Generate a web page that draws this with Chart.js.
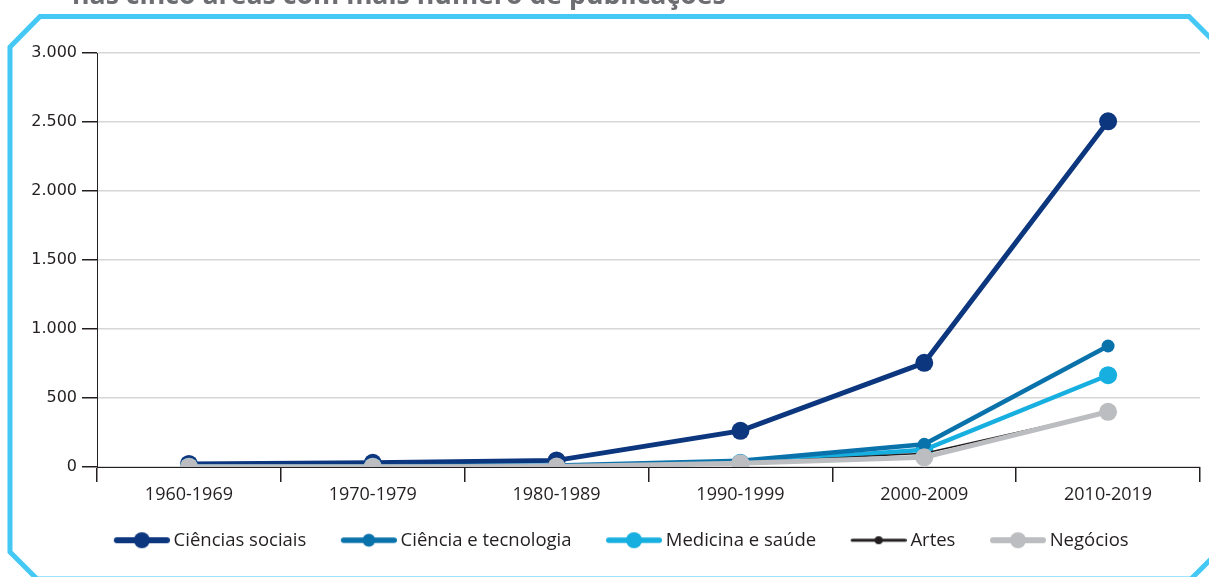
<!DOCTYPE html>
<html>
<head>
<meta charset="utf-8">
<script src="https://cdn.jsdelivr.net/npm/chart.js@4.4.1/dist/chart.umd.min.js"></script>
<style>
    html, body { margin: 0; padding: 0; background: #ffffff; }
    #wrap { position: relative; width: 1209px; height: 577px; overflow: hidden; }
    #title {
        position: absolute; left: 72px; top: -19px;
        font-family: 'Open Sans', sans-serif; font-weight: 700;
        font-size: 26.7px; line-height: 26.5px; color: #6d6e71; white-space: nowrap;
    }
    canvas { position: absolute; left: 0; top: 0; }
</style>
</head>
<body>
<div id="wrap">
    <canvas id="chart" width="1209" height="577"></canvas>
    <div id="title">nas cinco áreas com mais número de publicações</div>
</div>
<script>
// ==================== DATA ====================
const categories = ['1960-1969', '1970-1979', '1980-1989', '1990-1999', '2000-2009', '2010-2019'];
const yTickLabels = ['0', '500', '1.000', '1.500', '2.000', '2.500', '3.000'];

const cienciasSociais   = [22, 30, 48, 262, 755, 2505];
const cienciaTecnologia = [5, 6, 10, 45, 165, 877];
const medicinaSaude     = [2, 2, 0, 30, 125, 665];
const artes             = [3, 3, 5, 30, 100, 398];
const negocios          = [2, 2, 3, 28, 70, 400];

// ==================== STYLE ====================
const seriesStyle = [
    { label: 'Ciências sociais',     data: cienciasSociais,   color: '#0c367e', width: 5,   radius: 9,   order: 5 },
    { label: 'Ciência e tecnologia', data: cienciaTecnologia, color: '#0a72ab', width: 4.5, radius: 6.5, order: 3 },
    { label: 'Medicina e saúde',     data: medicinaSaude,     color: '#17afe0', width: 4.5, radius: 9,   order: 4 },
    { label: 'Artes',                data: artes,             color: '#231f20', width: 1.5, radius: 4,   order: 2 },
    { label: 'Negócios',             data: negocios,          color: '#bcbdc0', width: 5,   radius: 9,   order: 1 }
];

// legend icon: short line with a dot in the middle (left 20px kept empty as spacing)
const ICON_PAD = 20;
function legendIcon(color, lineWidth, radius) {
    const c = document.createElement('canvas');
    c.width = 56 + ICON_PAD;
    c.height = 20;
    const g = c.getContext('2d');
    const lw = Math.max(lineWidth, 2) + 1;
    g.strokeStyle = color;
    g.lineWidth = lw;
    g.lineCap = 'round';
    g.beginPath();
    g.moveTo(ICON_PAD + lw / 2, 10);
    g.lineTo(ICON_PAD + 56 - lw / 2, 10);
    g.stroke();
    g.fillStyle = color;
    g.beginPath();
    g.arc(ICON_PAD + 28, 10, radius, 0, Math.PI * 2);
    g.fill();
    return c;
}
const icons = seriesStyle.map(s => legendIcon(s.color, s.width, Math.min(s.radius, 8)));

// cyan frame with cut corners
const framePlugin = {
    id: 'frame',
    beforeDraw(chart) {
        const g = chart.ctx;
        g.save();
        g.strokeStyle = '#45c8f3';
        g.lineWidth = 5;
        g.lineJoin = 'miter';
        g.beginPath();
        g.moveTo(40, 16.5);
        g.lineTo(1189, 16.5);
        g.lineTo(1222, 49.5);
        g.lineTo(1222, 548);
        g.lineTo(1191, 579);
        g.lineTo(37, 579);
        g.lineTo(10, 552);
        g.lineTo(10, 47);
        g.closePath();
        g.stroke();
        g.restore();
    }
};

// nudge the legend row a little to the right
const legendShift = {
    id: 'legendShift',
    afterLayout(chart) {
        chart.legend.left += 13;
        chart.legend.right += 13;
    }
};

// ==================== CHART ====================
const ctx = document.getElementById('chart').getContext('2d');
const chart = new Chart(ctx, {
    type: 'line',
    data: {
        labels: categories,
        datasets: seriesStyle.map(s => ({
            label: s.label,
            data: s.data,
            borderColor: s.color,
            backgroundColor: s.color,
            pointBackgroundColor: s.color,
            borderWidth: s.width,
            pointRadius: s.radius,
            pointBorderWidth: 0,
            pointHoverRadius: s.radius,
            tension: 0,
            fill: false,
            order: s.order
        }))
    },
    options: {
        responsive: false,
        animation: false,
        layout: { padding: { left: 0, right: 7, top: 53, bottom: 17.5 } },
        plugins: {
            tooltip: { enabled: false },
            legend: {
                position: 'bottom',
                labels: {
                    usePointStyle: true,
                    pointStyleWidth: 65,
                    padding: 20,
                    color: '#231f20',
                    font: { family: "'Open Sans', sans-serif", size: 18.5 },
                    sort: (a, b) => a.datasetIndex - b.datasetIndex,
                    generateLabels: (c) => Chart.defaults.plugins.legend.labels.generateLabels(c)
                        .map(item => Object.assign(item, { pointStyle: icons[item.datasetIndex] }))
                }
            }
        },
        scales: {
            x: {
                offset: true,
                afterFit: (scale) => { scale.height = 44; },
                border: { display: true, color: '#231f20', width: 1 },
                grid: {
                    offset: true,
                    drawOnChartArea: true,
                    color: (c) => c.index === categories.length ? '#d6d6d6' : 'rgba(0,0,0,0)',
                    tickColor: '#231f20',
                    tickLength: 15,
                    lineWidth: 1.5
                },
                ticks: {
                    padding: 2,
                    color: '#231f20',
                    maxRotation: 0,
                    font: { family: "'Open Sans', sans-serif", size: 18 }
                }
            },
            y: {
                min: 0,
                max: 3000,
                afterFit: (scale) => { scale.width = 97; },
                border: { display: true, color: '#231f20', width: 1 },
                grid: {
                    color: '#d6d6d6',
                    lineWidth: 1.5,
                    tickColor: '#231f20',
                    tickLength: 15
                },
                ticks: {
                    stepSize: 500,
                    padding: 5,
                    color: '#231f20',
                    font: { family: "'DejaVu Sans', sans-serif", size: 16 },
                    callback: (value, index) => yTickLabels[index]
                }
            }
        }
    },
    plugins: [framePlugin, legendShift]
});
</script>
</body>
</html>
